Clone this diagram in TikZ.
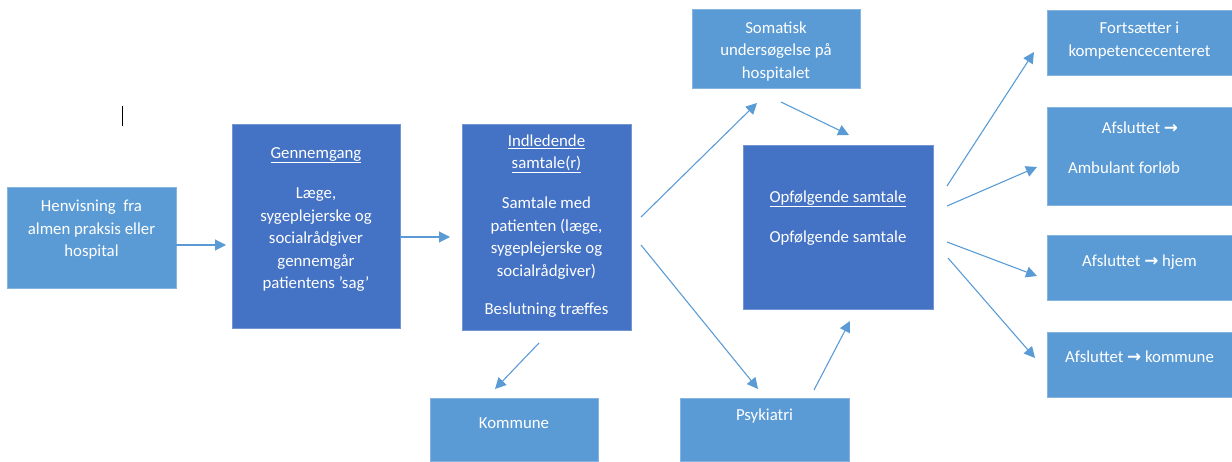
\documentclass[tikz,border=0pt]{standalone}
\usepackage{fontspec}
\setmainfont{Carlito}
\newfontfamily\djv{DejaVu Sans}
\usetikzlibrary{arrows.meta}
\definecolor{dkb}{HTML}{4472C4}
\definecolor{ltb}{HTML}{5B9BD5}
\tikzset{
  dbox/.style={fill=dkb, draw=dkb!75!white, line width=0.8pt, inner sep=0pt},
  lbox/.style={fill=ltb, draw=ltb!75!white, line width=0.8pt, inner sep=0pt},
  txt/.style={text=white, font=\fontsize{16.8}{22.5}\selectfont, align=center, inner sep=0pt},
  conn/.style={draw=ltb, line width=1.1pt, -{Triangle[length=11pt,width=11pt]}}
}
\newcommand{\arr}{{\djv\bfseries →}}
\begin{document}
\begin{tikzpicture}[x=1pt,y=-1pt]
\useasboundingbox (0,0) rectangle (1232,462);
% boxes
\node[lbox, minimum width=169pt, minimum height=101pt] (henv) at (91.5,237.5) {};
\node[dbox, minimum width=168pt, minimum height=204pt] (genn) at (316,226) {};
\node[dbox, minimum width=169pt, minimum height=206pt] (indl) at (546.5,227) {};
\node[lbox, minimum width=168pt, minimum height=79pt] (soma) at (776,48.5) {};
\node[dbox, minimum width=190pt, minimum height=164pt] (opf) at (838,227) {};
\node[lbox, minimum width=185pt, minimum height=65pt] (fort) at (1139.5,42.5) {};
\node[lbox, minimum width=185pt, minimum height=98pt] (amb) at (1139.5,156) {};
\node[lbox, minimum width=185pt, minimum height=65pt] (hjem) at (1139.5,267.5) {};
\node[lbox, minimum width=185pt, minimum height=65pt] (akom) at (1139.5,364.5) {};
\node[lbox, minimum width=168pt, minimum height=63pt] (komm) at (514,430) {};
\node[lbox, minimum width=169pt, minimum height=63pt] (psyk) at (764.5,430) {};
% texts
\node[txt] (henvt) at (91.5,230) {Henvisning\ \ fra\\almen praksis eller\\hospital};
\node[txt] (gennh) at (316,155) {\underline{Gennemgang}};
\node[txt] (gennt) at (316,240) {Læge,\\sygeplejerske og\\socialrådgiver\\gennemgår\\patientens ’sag’};
\node[txt] (indlh) at (546.5,154) {\underline{Indledende}\\\underline{samtale(r)}};
\node[txt] (indlt) at (546.5,238) {Samtale med\\patienten (læge,\\sygeplejerske og\\socialrådgiver)};
\node[txt] (indlb) at (546.5,310) {Beslutning træffes};
\node[txt] (somat) at (776,51.5) {Somatisk\\undersøgelse på\\hospitalet};
\node[txt] (opfh) at (838,199) {\underline{Opfølgende samtale}};
\node[txt] (opft) at (838,238) {Opfølgende samtale};
\node[txt] (fortt) at (1139.5,40.5) {Fortsætter i\\kompetencecenteret};
\node[txt] (ambh) at (1140,128) {Afsluttet \arr};
\node[txt] (ambt) at (1124,168) {Ambulant forløb};
\node[txt] (hjemt) at (1139.5,262) {Afsluttet \arr{} hjem};
\node[txt] (akomt) at (1139.5,357) {Afsluttet \arr{} kommune};
\node[txt] (kommt) at (514,423) {Kommune};
\node[txt] (psykt) at (764.5,416) {Psykiatri};
% cursor mark
\coordinate (c1) at (122,106);
\coordinate (c2) at (122,126);
\draw[black, line width=1pt] (c1) -- (c2);
% connector end points
\coordinate (a1s) at (176,245); \coordinate (a1e) at (226,245);
\coordinate (a2s) at (400,237); \coordinate (a2e) at (450,237);
\coordinate (a3s) at (641,217); \coordinate (a3e) at (757,103);
\coordinate (a4s) at (781,102); \coordinate (a4e) at (849,135);
\coordinate (a5s) at (641,245); \coordinate (a5e) at (758,389);
\coordinate (a6s) at (814,390); \coordinate (a6e) at (850,321);
\coordinate (a7s) at (539,343); \coordinate (a7e) at (495,389);
\coordinate (a8s) at (947,186); \coordinate (a8e) at (1034,52);
\coordinate (a9s) at (947,206); \coordinate (a9e) at (1037,167);
\coordinate (a10s) at (947,242); \coordinate (a10e) at (1037,276);
\coordinate (a11s) at (948,258); \coordinate (a11e) at (1035,358);
\draw[conn] (a1s) -- (a1e);
\draw[conn] (a2s) -- (a2e);
\draw[conn] (a3s) -- (a3e);
\draw[conn] (a4s) -- (a4e);
\draw[conn] (a5s) -- (a5e);
\draw[conn] (a6s) -- (a6e);
\draw[conn] (a7s) -- (a7e);
\draw[conn] (a8s) -- (a8e);
\draw[conn] (a9s) -- (a9e);
\draw[conn] (a10s) -- (a10e);
\draw[conn] (a11s) -- (a11e);
\end{tikzpicture}
\end{document}
